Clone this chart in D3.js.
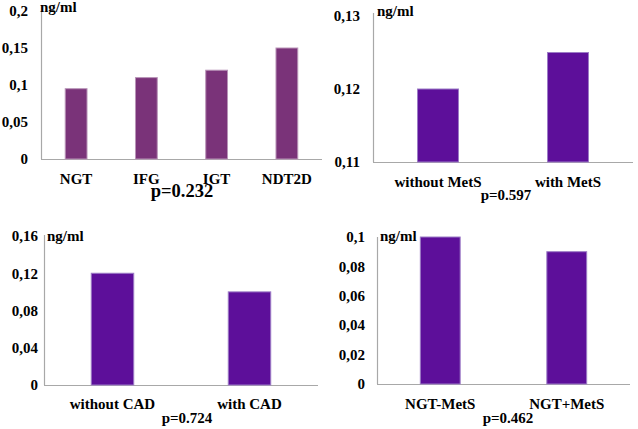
<!DOCTYPE html>
<html><head><meta charset="utf-8">
<script src="https://cdn.jsdelivr.net/npm/d3@7"></script>
<style>body{margin:0;background:#fff}</style>
</head><body>
<svg id="c" width="638" height="429" font-family="'Times New Roman', 'Liberation Serif', 'DejaVu Serif', serif" font-weight="bold"></svg>
<script>
// Data
const cats1 = ["NGT", "IFG", "IGT", "NDT2D"];
const vals1 = [0.095, 0.11, 0.12, 0.15];
const ticks1 = [0, 0.05, 0.1, 0.15, 0.2];
const tickLabels1 = ["0", "0,05", "0,1", "0,15", "0,2"];
const p1 = "p=0.232";

const cats2 = ["without MetS", "with MetS"];
const vals2 = [0.12, 0.125];
const ticks2 = [0.11, 0.12, 0.13];
const tickLabels2 = ["0,11", "0,12", "0,13"];
const p2 = "p=0.597";

const cats3 = ["without CAD", "with CAD"];
const vals3 = [0.12, 0.1];
const ticks3 = [0, 0.04, 0.08, 0.12, 0.16];
const tickLabels3 = ["0", "0,04", "0,08", "0,12", "0,16"];
const p3 = "p=0.724";

const cats4 = ["NGT-MetS", "NGT+MetS"];
const vals4 = [0.1, 0.09];
const ticks4 = [0, 0.02, 0.04, 0.06, 0.08, 0.1];
const tickLabels4 = ["0", "0,02", "0,04", "0,06", "0,08", "0,1"];
const p4 = "p=0.462";

const unit = "ng/ml";

const svg = d3.select("#c");

function panel(o) {
  const g = svg.append("g");
  const y = d3.scaleLinear().domain(o.domain).range([o.y0, o.y1]);
  const x = d3.scaleBand().domain(o.cats).range([o.x0, o.x1])
    .paddingInner(o.pad).paddingOuter(o.pad / 2);
  g.append("line").attr("x1", o.x0 + 0.5).attr("x2", o.x0 + 0.5)
    .attr("y1", o.axTop).attr("y2", o.y0).attr("stroke", "#a8a8a8").attr("stroke-width", 1.2);
  g.append("line").attr("x1", o.x0).attr("x2", o.x1)
    .attr("y1", o.y0 + 0.5).attr("y2", o.y0 + 0.5).attr("stroke", "#a8a8a8").attr("stroke-width", 1.2);
  g.selectAll("rect").data(o.vals).join("rect")
    .attr("x", (d, i) => x(o.cats[i]))
    .attr("width", x.bandwidth())
    .attr("y", d => y(d))
    .attr("height", d => y(o.domain[0]) - y(d))
    .attr("fill", o.fill).attr("stroke", o.stroke).attr("stroke-width", 1);
  g.selectAll("text.tick").data(o.ticks).join("text").attr("class", "tick")
    .attr("x", o.tickX).attr("y", d => y(d)).attr("dy", "0.35em")
    .attr("text-anchor", "end").attr("font-size", 15)
    .text((d, i) => o.tickLabels[i]);
  g.selectAll("text.cat").data(o.cats).join("text").attr("class", "cat")
    .attr("x", d => x(d) + x.bandwidth() / 2).attr("y", o.catY)
    .attr("text-anchor", "middle").attr("font-size", 15).text(d => d);
  g.append("text").attr("x", o.unitX).attr("y", o.unitY).attr("font-size", 15).text(unit);
  g.append("text").attr("x", o.pX).attr("y", o.pY).attr("text-anchor", "middle")
    .attr("font-size", o.pSize).text(o.p);
}

panel({cats: cats1, vals: vals1, ticks: ticks1, tickLabels: tickLabels1, p: p1,
  domain: [0, 0.2], x0: 41, x1: 322, y0: 159, y1: 11, axTop: 12, pad: 0.69,
  fill: "#7a3379", stroke: "#b994b8", tickX: 28, catY: 184, unitX: 40, unitY: 12,
  pX: 182, pY: 197, pSize: 18.5});

panel({cats: cats2, vals: vals2, ticks: ticks2, tickLabels: tickLabels2, p: p2,
  domain: [0.11, 0.13], x0: 373, x1: 633, y0: 162, y1: 16, axTop: 13, pad: 0.685,
  fill: "#5d0f9a", stroke: "#9c7cc6", tickX: 360, catY: 187, unitX: 377, unitY: 16,
  pX: 506, pY: 200, pSize: 15});

panel({cats: cats3, vals: vals3, ticks: ticks3, tickLabels: tickLabels3, p: p3,
  domain: [0, 0.16], x0: 44, x1: 318, y0: 385, y1: 236, axTop: 235, pad: 0.69,
  fill: "#5d0f9a", stroke: "#9c7cc6", tickX: 38, catY: 409, unitX: 47, unitY: 241,
  pX: 187, pY: 423, pSize: 15});

panel({cats: cats4, vals: vals4, ticks: ticks4, tickLabels: tickLabels4, p: p4,
  domain: [0, 0.1], x0: 377, x1: 630, y0: 384, y1: 237, axTop: 237, pad: 0.685,
  fill: "#5d0f9a", stroke: "#9c7cc6", tickX: 365, catY: 409, unitX: 380, unitY: 241,
  pX: 508, pY: 423, pSize: 15});
</script>
</body></html>
